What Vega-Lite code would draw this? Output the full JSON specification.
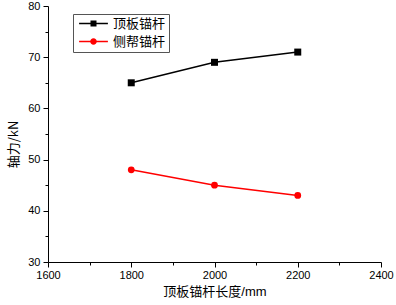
{
  "$schema": "https://vega.github.io/schema/vega-lite/v6.json",
  "width": 333,
  "height": 256,
  "autosize": {"type": "none"},
  "padding": {"left": 48, "top": 6, "right": 15, "bottom": 43},
  "background": "white",
  "config": {"view": {"stroke": null}},
  "data": {
    "values": [
      {"len": 1800, "force": 65, "series": "顶板锚杆"},
      {"len": 2000, "force": 69, "series": "顶板锚杆"},
      {"len": 2200, "force": 71, "series": "顶板锚杆"},
      {"len": 1800, "force": 48, "series": "侧帮锚杆"},
      {"len": 2000, "force": 45, "series": "侧帮锚杆"},
      {"len": 2200, "force": 43, "series": "侧帮锚杆"}
    ]
  },
  "encoding": {
    "x": {
      "field": "len", "type": "quantitative",
      "scale": {"domain": [1600, 2400], "nice": false, "zero": false},
      "axis": {
        "title": "顶板锚杆长度/mm",
        "values": [1600, 1700, 1800, 1900, 2000, 2100, 2200, 2300, 2400],
        "format": "d",
        "labelExpr": "datum.value % 200 === 0 ? datum.label : ''",
        "tickSize": {"condition": {"test": "datum.value % 200 === 0", "value": 5}, "value": 3},
        "grid": false,
        "domainColor": "#000", "tickColor": "#000", "domainWidth": 1, "tickWidth": 1,
        "labelFont": "Liberation Sans", "labelFontSize": 11, "labelColor": "#000", "labelPadding": 2,
        "labelFlush": false,
        "titleFont": "Liberation Sans, Noto Sans CJK SC", "titleFontSize": 13, "titleFontWeight": "normal", "titleColor": "#000", "titlePadding": 5
      }
    },
    "y": {
      "field": "force", "type": "quantitative",
      "scale": {"domain": [30, 80], "nice": false, "zero": false},
      "axis": {
        "title": "轴力/kN",
        "values": [30, 35, 40, 45, 50, 55, 60, 65, 70, 75, 80],
        "labelExpr": "datum.value % 10 === 0 ? datum.label : ''",
        "tickSize": {"condition": {"test": "datum.value % 10 === 0", "value": 5}, "value": 3},
        "grid": false,
        "domainColor": "#000", "tickColor": "#000", "domainWidth": 1, "tickWidth": 1,
        "labelFont": "Liberation Sans", "labelFontSize": 11, "labelColor": "#000", "labelPadding": 3,
        "labelFlush": false,
        "titleFont": "Noto Sans CJK SC, Liberation Sans", "titleFontSize": 13, "titleFontWeight": "normal", "titleColor": "#000", "titlePadding": 7, "titleY": 138
      }
    }
  },
  "layer": [
    {
      "transform": [{"filter": "datum.series === '顶板锚杆'"}],
      "mark": {"type": "line", "strokeWidth": 1.5, "color": "#000000"}
    },
    {
      "transform": [{"filter": "datum.series === '侧帮锚杆'"}],
      "mark": {"type": "line", "strokeWidth": 1.5, "color": "#ff0000"}
    },
    {
      "transform": [{"filter": "datum.series === '顶板锚杆'"}],
      "mark": {"type": "point", "shape": "square", "filled": true, "size": 49, "opacity": 1, "color": "#000000"}
    },
    {
      "transform": [{"filter": "datum.series === '侧帮锚杆'"}],
      "mark": {"type": "point", "shape": "circle", "filled": true, "size": 46, "opacity": 1, "color": "#ff0000"}
    },
    {
      "mark": {"type": "point", "filled": true, "opacity": 0, "strokeWidth": 0},
      "encoding": {
        "color": {
          "field": "series", "type": "nominal",
          "scale": {"domain": ["顶板锚杆", "侧帮锚杆"], "range": ["#000000", "#ff0000"]},
          "legend": {
            "title": null, "orient": "none", "legendX": 25, "legendY": 8,
            "strokeColor": "#555", "padding": 3, "symbolSize": 144, "symbolOpacity": 1,
            "symbolStrokeWidth": 0, "labelFont": "Noto Sans CJK SC", "labelFontSize": 13,
            "labelColor": "#000", "labelOffset": 13, "rowPadding": 4, "symbolOffset": 11
          }
        },
        "shape": {
          "field": "series", "type": "nominal",
          "scale": {"domain": ["顶板锚杆", "侧帮锚杆"], "range": [
            "M-2.4,-0.12H2.4V0.12H-2.4Z M-0.5,-0.5H0.5V0.5H-0.5Z",
            "M-2.4,-0.12H2.4V0.12H-2.4Z M-0.55,0 A0.55,0.55 0 1,1 0.55,0 A0.55,0.55 0 1,1 -0.55,0Z"
          ]},
          "legend": {
            "title": null, "orient": "none", "legendX": 25, "legendY": 8,
            "strokeColor": "#555", "padding": 3, "symbolSize": 144, "symbolOpacity": 1,
            "symbolStrokeWidth": 0, "labelFont": "Noto Sans CJK SC", "labelFontSize": 13,
            "labelColor": "#000", "labelOffset": 13, "rowPadding": 4, "symbolOffset": 11
          }
        }
      }
    }
  ]
}
